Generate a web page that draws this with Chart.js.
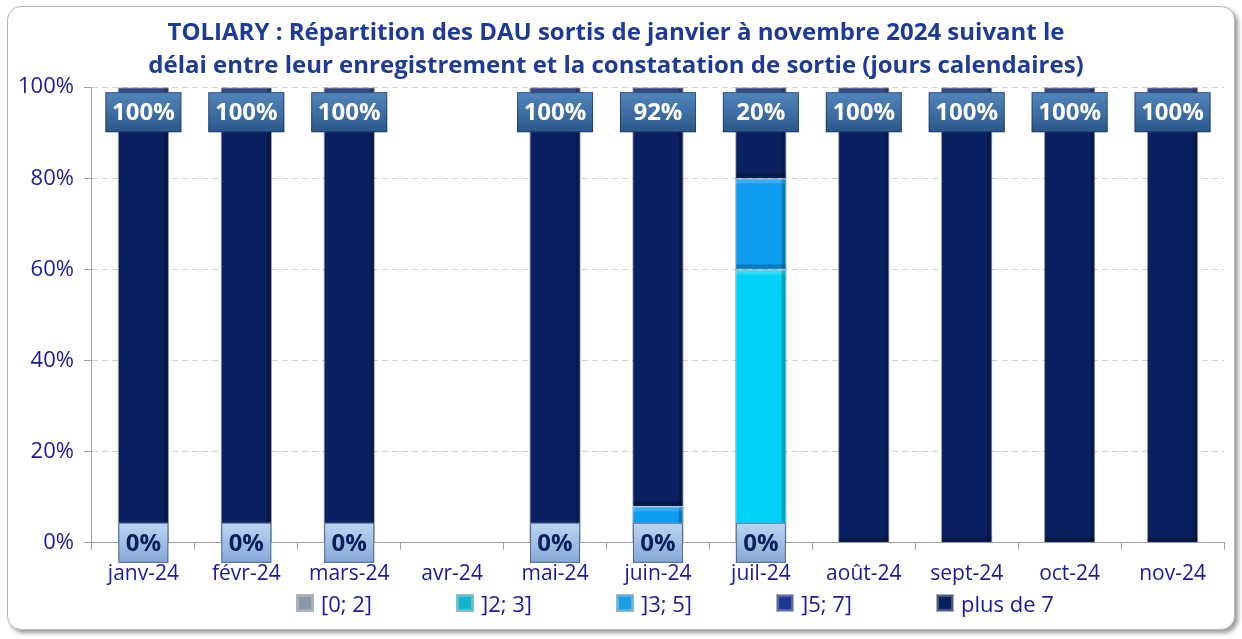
<!DOCTYPE html>
<html>
<head>
<meta charset="utf-8">
<script src="https://cdn.jsdelivr.net/npm/chart.js@4/dist/chart.umd.min.js"></script>
<style>
  body { margin: 0; background: #fff; font-family: "Open Sans", sans-serif; }
  #cadre {
    position: absolute; left: 7px; top: 6px; width: 1226px; height: 622px;
    border: 1.5px solid #b8b8b8; border-radius: 14px; background: #fff;
    box-shadow: 3px 3px 4px rgba(0,0,0,0.4);
  }
  canvas { position: absolute; left: 0; top: 0; }
  #legende {
    position: absolute; left: 289px; top: 582px; display: flex;
    color: #1a1a9a; font-size: 22px; line-height: 28px;
  }
  #legende span.item { display: inline-flex; align-items: center; width: 160px; white-space: nowrap; }
  #legende span.carre { width: 16px; height: 16px; margin-right: 8px; box-shadow: inset 0 0 0 2px rgba(255,255,255,0.25), 0 0 0 1px rgba(0,0,0,0.3); }
</style>
</head>
<body>
<div id="cadre">
  <canvas id="graphique" width="1226" height="622"></canvas>
  <div id="legende"></div>
</div>
<script>
const mois = ['janv-24', 'févr-24', 'mars-24', 'avr-24', 'mai-24', 'juin-24', 'juil-24', 'août-24', 'sept-24', 'oct-24', 'nov-24'];
const series = ['[0; 2]', ']2; 3]', ']3; 5]', ']5; 7]', 'plus de 7'];
// valeurs en %
const de0a2 = [0, 0, 0, null, 0, 0, 0, null, null, null, null];
const de2a3 = [0, 0, 0, null, 0, 0, 60, 0, 0, 0, 0];
const de3a5 = [0, 0, 0, null, 0, 8, 20, 0, 0, 0, 0];
const de5a7 = [0, 0, 0, null, 0, 0, 0, 0, 0, 0, 0];
const plusDe7 = [100, 100, 100, null, 100, 92, 20, 100, 100, 100, 100];
const couleurs = ['#8d9db4', '#00d2f7', '#0d9cef', '#1b3a96', '#0a2060'];
const couleursLegende = ['#8a97a8', '#14b4cc', '#1a9de0', '#1b3a96', '#0b1f5c'];

const ctx = document.getElementById('graphique');

function boite(c, x, y, w, h, haut, bas) {
  const g = c.createLinearGradient(0, y, 0, y + h);
  g.addColorStop(0, haut);
  g.addColorStop(1, bas);
  c.fillStyle = g;
  c.fillRect(x, y, w, h);
  c.strokeStyle = 'rgba(20,40,80,0.55)';
  c.lineWidth = 1;
  c.strokeRect(x + 0.5, y + 0.5, w - 1, h - 1);
}

// petit effet de biseau sur les segments
const biseau = {
  id: 'biseau',
  afterDatasetsDraw(chart) {
    const c = chart.ctx;
    c.save();
    chart.data.datasets.forEach((ds, d) => {
      chart.getDatasetMeta(d).data.forEach(bar => {
        const h = bar.base - bar.y;
        if (!(h > 2)) return;
        const x0 = bar.x - bar.width / 2;
        c.fillStyle = 'rgba(255,255,255,0.18)';
        c.fillRect(x0 + 1, bar.y + 1, bar.width - 2, 4);
        c.fillStyle = 'rgba(0,0,0,0.22)';
        c.fillRect(x0 + bar.width - 5, bar.y + 1, 4, h - 2);
        c.fillRect(x0 + 1, bar.base - 5, bar.width - 2, 4);
      });
    });
    c.restore();
  }
};

// étiquettes : 0% en bas pour [0; 2], valeur en haut pour plus de 7
const etiquettes = {
  id: 'etiquettes',
  afterDatasetsDraw(chart) {
    const c = chart.ctx;
    c.save();
    c.textAlign = 'center';
    c.textBaseline = 'middle';
    c.font = 'bold 24px "Open Sans"';
    chart.getDatasetMeta(0).data.forEach((bar, i) => {
      if (de0a2[i] === null) return;
      const y = chart.scales.y.getPixelForValue(0);
      boite(c, bar.x - 25, y - 20, 50, 40, '#bcd5f2', '#86a8d6');
      c.fillStyle = '#0c1f5c';
      c.fillText(de0a2[i] + '%', bar.x, y + 1);
    });
    chart.getDatasetMeta(4).data.forEach((bar, i) => {
      if (plusDe7[i] === null) return;
      const y = chart.scales.y.getPixelForValue(100) + 25;
      boite(c, bar.x - 38, y - 20, 76, 40, '#5286bc', '#2b578a');
      c.fillStyle = '#ffffff';
      c.fillText(plusDe7[i] + '%', bar.x, y + 1);
    });
    c.restore();
  }
};

new Chart(ctx, {
  type: 'bar',
  data: {
    labels: mois,
    datasets: [de0a2, de2a3, de3a5, de5a7, plusDe7].map((d, i) => ({
      label: series[i],
      data: d,
      backgroundColor: couleurs[i],
      borderColor: 'rgba(0,0,0,0.35)',
      borderWidth: 1,
      barPercentage: 0.5,
      categoryPercentage: 1
    }))
  },
  options: {
    responsive: false,
    animation: false,
    layout: { padding: { left: 0, right: 10, top: 0, bottom: 30 } },
    plugins: {
      title: {
        display: true,
        text: ['TOLIARY : Répartition des DAU sortis de janvier à novembre 2024 suivant le',
               'délai entre leur enregistrement et la constatation de sortie (jours calendaires)'],
        color: '#1c3a96',
        font: { family: 'Open Sans', size: 24, weight: 'bold', lineHeight: 1.4 },
        padding: { top: 9, bottom: 4 }
      },
      legend: { display: false },
      tooltip: { enabled: false }
    },
    scales: {
      x: {
        stacked: true,
        ticks: { color: '#1a1a9a', font: { family: 'Open Sans', size: 21 }, padding: 12 },
        grid: { drawOnChartArea: false, color: '#a0a0a0', tickLength: 7 },
        border: { color: '#a0a0a0' }
      },
      y: {
        stacked: true,
        min: 0, max: 100,
        ticks: { stepSize: 20, color: '#1a1a9a', font: { family: 'Open Sans', size: 22 }, callback: v => v + '%', padding: 10 },
        grid: { color: '#d2d2d2', tickLength: 8, tickColor: '#a0a0a0' },
        border: { color: '#a0a0a0', dash: [6, 4] }
      }
    }
  },
  plugins: [biseau, etiquettes]
});

// légende en bas
const legende = document.getElementById('legende');
series.forEach((nom, i) => {
  const item = document.createElement('span');
  item.className = 'item';
  const carre = document.createElement('span');
  carre.className = 'carre';
  carre.style.background = couleursLegende[i];
  item.appendChild(carre);
  item.appendChild(document.createTextNode(nom));
  legende.appendChild(item);
});
</script>
</body>
</html>
